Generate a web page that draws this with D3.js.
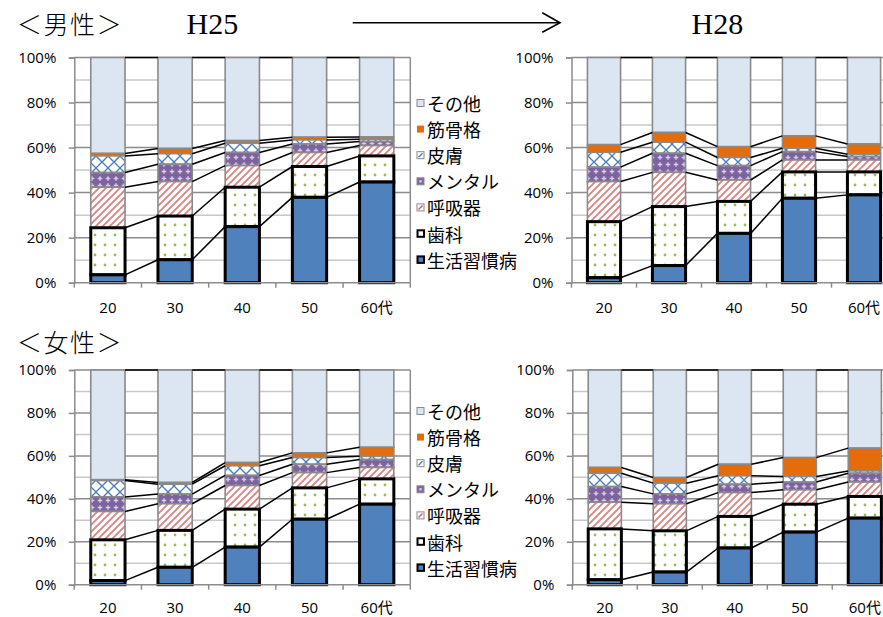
<!DOCTYPE html>
<html>
<head>
<meta charset="utf-8">
<script src="https://cdn.jsdelivr.net/npm/d3@7"></script>
<style>
  body { margin: 0; background: #fff; }
  svg { display: block; }
  .tick-label { font-family: "Open Sans", "Noto Sans CJK JP", sans-serif; font-size: 15px; fill: #000; }
  .legend-label { font-family: "Noto Sans CJK JP", sans-serif; font-size: 18px; fill: #000; }
  .title-jp { font-family: "Noto Sans CJK JP", sans-serif; font-size: 25px; font-weight: 300; letter-spacing: 1.5px; fill: #000; }
  .title-year { font-family: "Liberation Serif", "DejaVu Serif", serif; font-size: 30px; fill: #000; }
</style>
</head>
<body>
<svg id="chart" width="883" height="617"></svg>
<script>
// Age groups on the x axis
const ages = ["20", "30", "40", "50", "60代"];
// Stack order, bottom to top
const seriesNames = ["生活習慣病", "歯科", "呼吸器", "メンタル", "皮膚", "筋骨格", "その他"];
// Legend order, top to bottom
const legendOrder = ["その他", "筋骨格", "皮膚", "メンタル", "呼吸器", "歯科", "生活習慣病"];
const yTickValues = [0, 20, 40, 60, 80, 100];
const minorTickValues = [10, 30, 50, 70, 90];

// Shares (%) by age group; one row per series, in seriesNames order
const maleH25 = [
  [3.5, 10.2, 24.9, 37.9, 44.7],
  [20.9, 19.4, 17.5, 13.7, 11.6],
  [18.0, 15.3, 9.6, 6.2, 4.6],
  [6.5, 7.7, 5.8, 3.8, 1.8],
  [7.4, 4.7, 4.1, 1.8, 1.0],
  [1.1, 2.3, 1.2, 1.2, 1.0],
  [42.6, 40.4, 36.9, 35.4, 35.3]
];
const maleH28 = [
  [2.2, 7.6, 21.9, 37.5, 39.0],
  [24.9, 26.2, 14.2, 11.7, 10.2],
  [17.8, 15.2, 9.5, 5.3, 5.3],
  [6.4, 8.5, 6.4, 3.7, 1.5],
  [6.6, 4.9, 3.6, 1.5, 1.0],
  [3.4, 4.3, 4.8, 5.5, 4.6],
  [38.7, 33.3, 39.6, 34.8, 38.4]
];
const femaleH25 = [
  [1.9, 8.1, 17.5, 30.5, 37.5],
  [19.0, 17.2, 17.7, 14.6, 11.8],
  [13.2, 12.4, 11.0, 7.1, 5.3],
  [6.8, 4.5, 4.7, 3.9, 3.7],
  [7.6, 4.6, 4.5, 3.1, 1.5],
  [0.4, 0.8, 1.5, 2.2, 4.2],
  [51.1, 52.4, 43.1, 38.6, 36.0]
];
const femaleH28 = [
  [2.3, 5.9, 17.1, 24.5, 31.0],
  [23.7, 19.2, 14.7, 13.0, 10.1],
  [12.4, 12.6, 11.1, 6.7, 6.7],
  [7.3, 4.6, 3.9, 3.6, 4.1],
  [6.2, 5.0, 3.9, 2.6, 1.1],
  [2.7, 2.6, 5.4, 8.8, 10.6],
  [45.4, 50.1, 43.9, 40.8, 36.4]
];

const svg = d3.select("#chart");
svg.append("rect").attr("width", 883).attr("height", 617).attr("fill", "#fff");

// ---- fill patterns ----
const defs = svg.append("defs");

const pSkin = defs.append("pattern").attr("id", "p-skin")
  .attr("patternUnits", "userSpaceOnUse").attr("width", 12).attr("height", 12);
pSkin.append("rect").attr("width", 12).attr("height", 12).attr("fill", "#fff");
pSkin.append("path").attr("d", "M0,0 L6,6 L12,0 M0,12 L6,6 L12,12")
  .attr("stroke", "#4a7ebb").attr("stroke-width", 1.3).attr("fill", "none");

const pMental = defs.append("pattern").attr("id", "p-mental")
  .attr("patternUnits", "userSpaceOnUse").attr("width", 8).attr("height", 7);
pMental.append("rect").attr("width", 8).attr("height", 7).attr("fill", "#7d62a0");
pMental.append("path").attr("d", "M4,1.2 V5.8 M1.7,3.5 H6.3")
  .attr("stroke", "#d6cce4").attr("stroke-width", 1.4);

const pResp = defs.append("pattern").attr("id", "p-resp")
  .attr("patternUnits", "userSpaceOnUse").attr("width", 7).attr("height", 7);
pResp.append("rect").attr("width", 7).attr("height", 7).attr("fill", "#fff");
pResp.append("path").attr("d", "M-1,1 L1,-1 M0,7 L7,0 M6,8 L8,6")
  .attr("stroke", "#d98583").attr("stroke-width", 1.9);

const pDental = defs.append("pattern").attr("id", "p-dental")
  .attr("patternUnits", "userSpaceOnUse").attr("width", 10).attr("height", 10);
pDental.append("rect").attr("width", 10).attr("height", 10).attr("fill", "#fff");
pDental.append("circle").attr("cx", 5).attr("cy", 5).attr("r", 1.4).attr("fill", "#9bbb59");

const seriesStyle = {
  "生活習慣病": { fill: "#4f81bd", stroke: "#000", sw: 3 },
  "歯科": { fill: "url(#p-dental)", stroke: "#000", sw: 3 },
  "呼吸器": { fill: "url(#p-resp)", stroke: "#8a8a8a", sw: 1.6 },
  "メンタル": { fill: "url(#p-mental)", stroke: "#8a8a8a", sw: 1.6 },
  "皮膚": { fill: "url(#p-skin)", stroke: "#8a8a8a", sw: 1.6 },
  "筋骨格": { fill: "#e46c0a", stroke: "#8a8a8a", sw: 1.6 },
  "その他": { fill: "#dce6f2", stroke: "#8a8a8a", sw: 1.6 }
};

// ---- one stacked 100% column chart ----
function drawPanel(values, box) {
  const table = ages.map((age, i) => {
    const row = { age };
    seriesNames.forEach((s, k) => { row[s] = values[k][i]; });
    return row;
  });
  const layers = d3.stack().keys(seriesNames)(table);

  const x = d3.scaleBand().domain(ages).range([box.x0, box.x1])
    .paddingInner(0.49).paddingOuter(0.245);
  const y = d3.scaleLinear().domain([0, 100]).range([box.y1, box.y0]);
  const bw = x.bandwidth();
  const step = x.step();

  const g = svg.append("g");

  // gridlines
  g.selectAll(".minor").data(minorTickValues).join("line")
    .attr("x1", box.x0).attr("x2", box.x1)
    .attr("y1", d => y(d)).attr("y2", d => y(d))
    .attr("stroke", "#c8c8c8").attr("stroke-width", 1.5);
  g.selectAll(".major").data(yTickValues.filter(v => v > 0)).join("line")
    .attr("x1", box.x0).attr("x2", box.x1)
    .attr("y1", d => y(d)).attr("y2", d => y(d))
    .attr("stroke", "#8c8c8c").attr("stroke-width", 1.5);
  g.append("line").attr("x1", box.x1).attr("x2", box.x1)
    .attr("y1", y(100)).attr("y2", y(0))
    .attr("stroke", "#8c8c8c").attr("stroke-width", 1.5);

  // bars: upper series first so the heavy borders below stay on top
  const barLayer = g.append("g");
  layers.slice().reverse().forEach(layer => {
    const st = seriesStyle[layer.key];
    barLayer.append("g").selectAll("rect").data(layer).join("rect")
      .attr("x", d => x(d.data.age))
      .attr("y", d => y(d[1]))
      .attr("width", bw)
      .attr("height", d => y(d[0]) - y(d[1]))
      .attr("fill", st.fill)
      .attr("stroke", st.stroke)
      .attr("stroke-width", st.sw);
  });

  // series lines joining the top of each segment across neighbouring bars
  layers.forEach(layer => {
    const pairs = d3.pairs(layer);
    g.append("g").selectAll("line").data(pairs).join("line")
      .attr("x1", ([a]) => x(a.data.age) + bw)
      .attr("x2", ([, b]) => x(b.data.age))
      .attr("y1", ([a]) => y(a[1]))
      .attr("y2", ([, b]) => y(b[1]))
      .attr("stroke", "#000").attr("stroke-width", 1.5);
  });

  // y axis
  const yAxis = g.append("g").attr("transform", `translate(${box.x0},0)`)
    .call(d3.axisLeft(y).tickValues(yTickValues).tickFormat(d => d + "%")
      .tickSize(5.5).tickPadding(12.5));
  yAxis.select(".domain").attr("stroke", "#8c8c8c").attr("stroke-width", 1.5);
  yAxis.selectAll(".tick line").attr("stroke", "#8c8c8c").attr("stroke-width", 1.5);
  yAxis.selectAll(".tick text").attr("class", "tick-label").attr("font-family", null).attr("font-size", null);

  // x axis
  const xAxis = g.append("g").attr("transform", `translate(0,${box.y1})`)
    .call(d3.axisBottom(x).tickSize(0));
  xAxis.select(".domain").remove();
  xAxis.selectAll(".tick text").attr("class", "tick-label")
    .attr("font-family", null).attr("font-size", null)
    .attr("y", box.labelOffset).attr("dy", 0);
  g.append("line").attr("x1", box.x0).attr("x2", box.x1)
    .attr("y1", box.y1).attr("y2", box.y1)
    .attr("stroke", "#8c8c8c").attr("stroke-width", 1.5);
  g.append("g").selectAll("line").data(d3.range(ages.length + 1)).join("line")
    .attr("x1", i => box.x0 + i * step).attr("x2", i => box.x0 + i * step)
    .attr("y1", box.y1).attr("y2", box.y1 + 5)
    .attr("stroke", "#8c8c8c").attr("stroke-width", 1.5);
}

drawPanel(maleH25, { x0: 74.3, x1: 410.3, y0: 57.5, y1: 282.7, labelOffset: 30.5 });
drawPanel(maleH28, { x0: 571.5, x1: 896.5, y0: 57.5, y1: 282.7, labelOffset: 30.5 });
drawPanel(femaleH25, { x0: 74.3, x1: 410.3, y0: 370, y1: 584.7, labelOffset: 28 });
drawPanel(femaleH28, { x0: 572.3, x1: 897.3, y0: 370, y1: 584.7, labelOffset: 28 });

// ---- legends ----
function drawLegend(top) {
  const g = svg.append("g");
  const rows = g.selectAll("g").data(legendOrder).join("g")
    .attr("transform", (d, i) => `translate(417,${top + i * 26.1})`);
  rows.each(function (name) {
    const r = d3.select(this);
    if (name === "生活習慣病" || name === "歯科") {
      r.append("rect").attr("x", 0.5).attr("y", -3.2).attr("width", 6.5).attr("height", 6.5)
        .attr("fill", name === "歯科" ? "#fff" : "#4f81bd")
        .attr("stroke", "#000").attr("stroke-width", 2);
    } else {
      const base = name === "その他" ? "#dce6f2" : name === "筋骨格" ? "#e46c0a"
        : name === "メンタル" ? "#8064a2" : "#fff";
      r.append("rect").attr("x", 0).attr("y", -3.5).attr("width", 7).attr("height", 7)
        .attr("fill", base).attr("stroke", name === "筋骨格" ? "none" : "#8a8a8a").attr("stroke-width", 1);
      if (name === "皮膚" || name === "呼吸器") {
        r.append("line").attr("x1", 1.5).attr("y1", 2).attr("x2", 5.5).attr("y2", -2)
          .attr("stroke", name === "皮膚" ? "#4a7ebb" : "#d05a58").attr("stroke-width", 1.4);
      }
      if (name === "メンタル") {
        r.append("rect").attr("x", 2.3).attr("y", -1.2).attr("width", 2.4).attr("height", 2.4).attr("fill", "#d6cce4");
      }
    }
    r.append("text").attr("class", "legend-label").attr("x", 10).attr("y", 0)
      .attr("dominant-baseline", "central").text(name);
  });
}
drawLegend(103);
drawLegend(411);

// ---- titles ----
svg.append("text").attr("class", "title-jp").attr("x", 17).attr("y", 34).text("＜男性＞");
svg.append("text").attr("class", "title-jp").attr("x", 17).attr("y", 351.5).text("＜女性＞");
svg.append("text").attr("class", "title-year").attr("x", 186.5).attr("y", 33.5).text("H25");
svg.append("text").attr("class", "title-year").attr("x", 691.5).attr("y", 33.5).text("H28");
svg.append("line").attr("x1", 352.7).attr("x2", 559).attr("y1", 22.7).attr("y2", 22.7)
  .attr("stroke", "#000").attr("stroke-width", 1.6);
svg.append("path").attr("d", "M542.3,12.7 L560,22.7 L542.3,32.3")
  .attr("fill", "none").attr("stroke", "#000").attr("stroke-width", 1.6);
</script>
</body>
</html>
